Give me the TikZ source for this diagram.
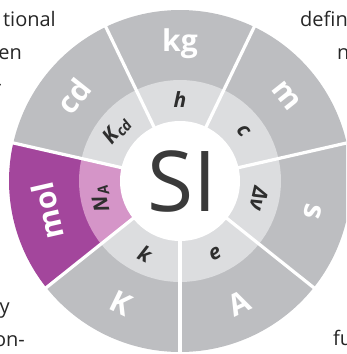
\documentclass[tikz,border=0pt]{standalone}
\usepackage{fontspec}
\setmainfont{Open Sans}
\definecolor{outg}{HTML}{BDBEC1}
\definecolor{inng}{HTML}{DCDDDF}
\definecolor{molp}{HTML}{A3469C}
\definecolor{molpink}{HTML}{D595C8}
\definecolor{darktxt}{HTML}{2E2E2E}
\definecolor{sitxt}{HTML}{3A3A3A}
\tikzset{
  outl/.style={text=white, inner sep=0pt, font=\fontsize{30}{30}\selectfont\bfseries},
  inl/.style={text=darktxt, inner sep=0pt, font=\fontsize{21}{21}\selectfont\bfseries\itshape},
  frag/.style={text=black!85, inner sep=0pt, font=\fontsize{20}{20}\selectfont},
  gapline/.style={white, line width=3.2pt}
}
\begin{document}
\begin{tikzpicture}[x=1pt,y=1pt]
\useasboundingbox (0,0) rectangle (346,354);
\clip (0,0) rectangle (346,354);
\begin{scope}[shift={(180,173)}]
  \foreach \i/\oc/\ic in {0/outg/inng,1/outg/inng,2/outg/inng,3/outg/inng,4/outg/inng,5/molp/molpink,6/outg/inng}{
    \pgfmathsetmacro\aa{90-\i*51.428571-25.714286}
    \pgfmathsetmacro\bb{90-\i*51.428571+25.714286}
    \fill[\oc] (\aa:100) arc[start angle=\aa,end angle=\bb,radius=100] -- (\bb:171) arc[start angle=\bb,end angle=\aa,radius=171] -- cycle;
    \fill[\ic] (\aa:55) arc[start angle=\aa,end angle=\bb,radius=55] -- (\bb:101) arc[start angle=\bb,end angle=\aa,radius=101] -- cycle;
  }
  \coordinate (c) at (0,0);
  \foreach \i in {0,...,6}{
    \draw[gapline] (c) -- ({90-25.714286-\i*51.428571}:180);
  }
  \fill[white] (c) circle (60);
  \node[text=sitxt, inner sep=0pt, font=\fontsize{84}{84}\selectfont] (si) at (2,0) {SI};
  % outer labels
  \node[outl, rotate=0] (kg) at (90:137) {kg};
  \node[outl, rotate=-51.429] (m) at (38.571:136) {m};
  \node[outl, rotate=-102.857] (s) at (-12.857:136) {s};
  \node[outl, rotate=25.714] (A) at (-64.286:136) {A};
  \node[outl, rotate=-25.714] (K) at (-115.714:136) {K};
  \node[outl, rotate=102.857] (mol) at (192.857:136) {mol};
  \node[outl, rotate=51.429] (cd) at (141.429:136) {cd};
  % inner labels
  \node[inl, rotate=0] (h) at (90:81) {h};
  \node[inl, rotate=-51.429] (cc) at (38.571:81) {c};
  \node[inl, rotate=-102.857] (dnu) at (-12.857:81) {Δν};
  \node[inl, rotate=25.714] (e) at (-64.286:81) {e};
  \node[inl, rotate=-25.714] (k) at (-115.714:81) {k};
  \node[inl, rotate=102.857] (NA) at (192.857:81) {N\textsubscript{A}};
  \node[inl, rotate=51.429] (Kcd) at (141.429:81) {K\textsubscript{cd}};
\end{scope}
% surrounding text fragments
\node[frag, anchor=base east] (t1) at (56,327) {tional};
\node[frag, anchor=base east] (t2) at (22,294) {en};
\node[frag, anchor=base east] (t3) at (2,263) {-};
\node[frag, anchor=base west] (t4) at (300,327) {defin};
\node[frag, anchor=base west] (t5) at (337,294) {n};
\node[frag, anchor=base east] (t6) at (10,41) {y};
\node[frag, anchor=base east] (t7) at (25,7) {on-};
\node[frag, anchor=base west] (t8) at (333,9) {fu};
\end{tikzpicture}
\end{document}
